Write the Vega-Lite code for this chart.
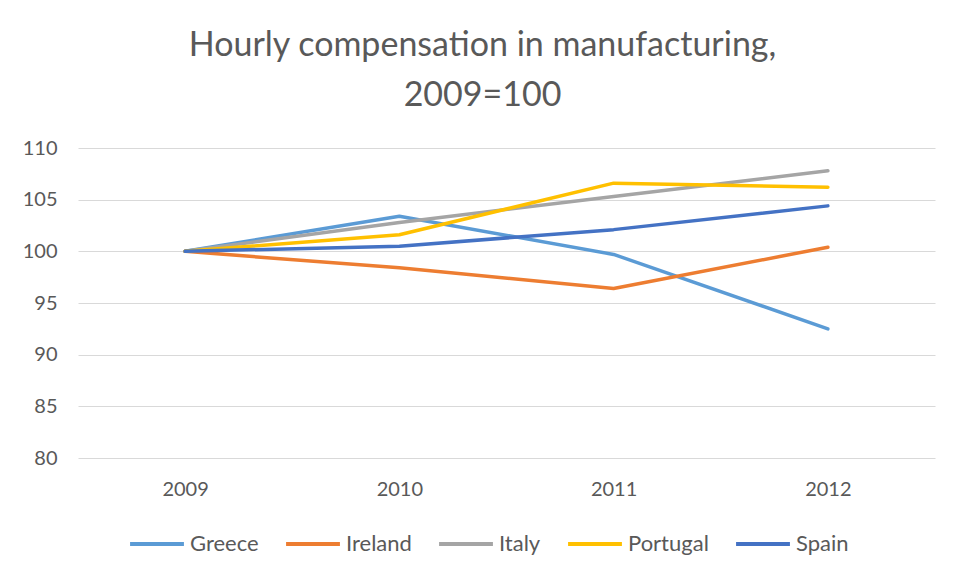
{
  "$schema": "https://vega.github.io/schema/vega-lite/v6.json",
  "width": 857,
  "height": 310,
  "autosize": {"type": "none"},
  "padding": {"left": 78, "top": 148, "right": 29, "bottom": 122},
  "background": "white",
  "title": {
    "text": ["Hourly compensation in manufacturing,", "2009=100"],
    "font": "Lato",
    "fontSize": 34,
    "fontWeight": "normal",
    "color": "#595959",
    "lineHeight": 50,
    "anchor": "middle",
    "dx": -24,
    "offset": 25
  },
  "data": {
    "values": [
      {"year": "2009", "country": "Greece", "value": 100},
      {"year": "2010", "country": "Greece", "value": 103.4},
      {"year": "2011", "country": "Greece", "value": 99.7},
      {"year": "2012", "country": "Greece", "value": 92.5},
      {"year": "2009", "country": "Ireland", "value": 100},
      {"year": "2010", "country": "Ireland", "value": 98.4},
      {"year": "2011", "country": "Ireland", "value": 96.4},
      {"year": "2012", "country": "Ireland", "value": 100.4},
      {"year": "2009", "country": "Italy", "value": 100},
      {"year": "2010", "country": "Italy", "value": 102.8},
      {"year": "2011", "country": "Italy", "value": 105.3},
      {"year": "2012", "country": "Italy", "value": 107.8},
      {"year": "2009", "country": "Portugal", "value": 100},
      {"year": "2010", "country": "Portugal", "value": 101.6},
      {"year": "2011", "country": "Portugal", "value": 106.6},
      {"year": "2012", "country": "Portugal", "value": 106.2},
      {"year": "2009", "country": "Spain", "value": 100},
      {"year": "2010", "country": "Spain", "value": 100.5},
      {"year": "2011", "country": "Spain", "value": 102.1},
      {"year": "2012", "country": "Spain", "value": 104.4}
    ]
  },
  "mark": {"type": "line", "strokeWidth": 3.5, "strokeCap": "round", "strokeJoin": "round"},
  "encoding": {
    "x": {
      "field": "year",
      "type": "ordinal",
      "scale": {"type": "point", "padding": 0.5},
      "axis": {
        "title": null,
        "labelAngle": 0,
        "ticks": false,
        "domain": false,
        "grid": false,
        "labelFont": "Lato",
        "labelFontSize": 20,
        "labelColor": "#595959",
        "labelPadding": 21
      }
    },
    "y": {
      "field": "value",
      "type": "quantitative",
      "scale": {"domain": [80, 110], "nice": false, "zero": false},
      "axis": {
        "title": null,
        "values": [80, 85, 90, 95, 100, 105, 110],
        "ticks": false,
        "domain": false,
        "grid": true,
        "gridColor": "#D9D9D9",
        "gridWidth": 1,
        "labelFont": "Lato",
        "labelFontSize": 20,
        "labelColor": "#595959",
        "labelPadding": 21
      }
    },
    "color": {
      "field": "country",
      "type": "nominal",
      "scale": {
        "domain": ["Greece", "Ireland", "Italy", "Portugal", "Spain"],
        "range": ["#5B9BD5", "#ED7D31", "#A5A5A5", "#FFC000", "#4472C4"]
      },
      "legend": {
        "title": null,
        "orient": "none",
        "legendX": 50,
        "legendY": 367,
        "direction": "horizontal",
        "symbolType": "stroke",
        "symbolSize": 2900,
        "symbolStrokeWidth": 4,
        "labelFont": "Lato",
        "labelFontSize": 22,
        "labelColor": "#595959",
        "labelOffset": 4,
        "columnPadding": 19
      }
    }
  },
  "config": {
    "view": {"stroke": null}
  }
}
